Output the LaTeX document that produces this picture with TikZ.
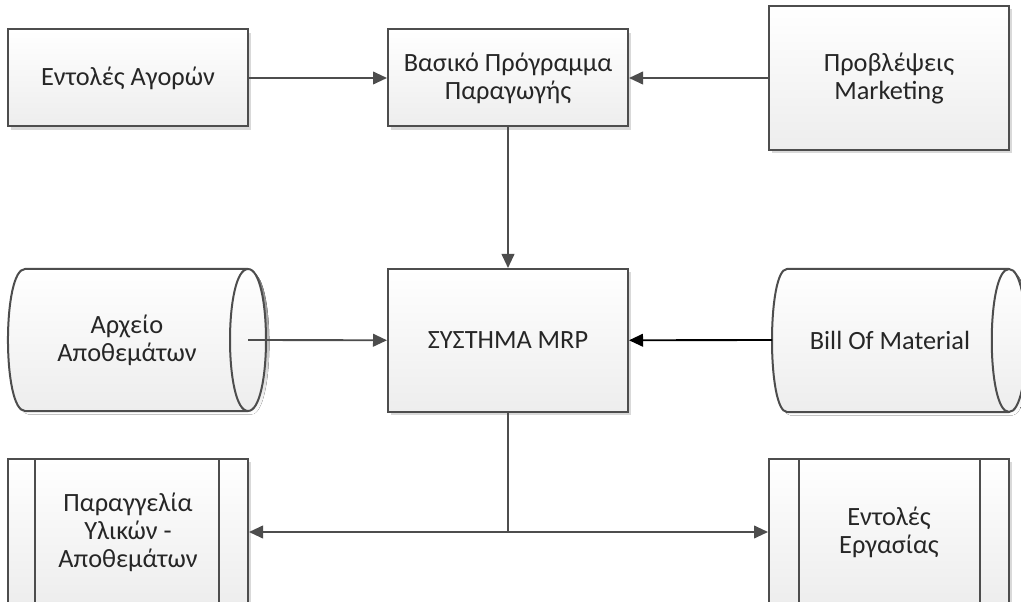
\documentclass[tikz,border=0pt]{standalone}
\usepackage{fontspec}
\setmainfont{Carlito}
\usetikzlibrary{arrows.meta,shadows}
\definecolor{edge}{HTML}{4D4D4D}
\definecolor{ink}{HTML}{262626}
\definecolor{fillbot}{HTML}{EDEDED}
\definecolor{shade}{HTML}{D9D9D9}

% outlines of the two data-store cylinders
\newcommand\cylleft{(25,269) -- (248,269) .. controls (272,269) and (272,411) .. (248,411) -- (25,411) .. controls (2.3,411) and (2.3,269) .. (25,269) -- cycle}
\newcommand\cylright{(787,269) -- (1009,269) .. controls (1032,269) and (1032,412) .. (1009,412) -- (787,412) .. controls (767,412) and (767,269) .. (787,269) -- cycle}

\begin{document}
\begin{tikzpicture}[x=0.75pt,y=-0.75pt,
  txt/.style={align=center, text=ink, inner sep=0pt,
    font=\fontsize{19.75pt}{21pt}\selectfont},
  box/.style={txt, draw=edge, line width=1.5pt, top color=white,
    bottom color=fillbot, minimum width=180pt,
    drop shadow={shadow xshift=2.5pt, shadow yshift=-2.5pt, fill=shade, opacity=1}},
  shapeline/.style={draw=edge, line width=1.5pt},
  conn/.style={draw=edge, line width=1.4pt, -{Triangle[length=10.5pt,width=9.5pt]}},
]
\useasboundingbox (0,0) rectangle (1021,602);
\fill[white] (0,0) rectangle (1021,602);
\clip (0,0) rectangle (1021,602);

% top row
\node[box, minimum height=72.75pt] (ea) at (128,78) {Εντολές Αγορών};
\node[box, minimum height=72.75pt] (bp) at (508,78) {Βασικό Πρόγραμμα\\Παραγωγής};
\node[box, minimum height=108pt] (pm) at (889,78) {Προβλέψεις\\Marketing};

% central process
\node[box, minimum height=107.25pt] (mrp) at (508,340.5) {ΣΥΣΤΗΜΑ MRP};

% data stores
\fill[shade, xshift=2.5pt, yshift=-2.5pt] \cylleft;
\path[shapeline, top color=white, bottom color=fillbot] \cylleft;
\draw[shapeline] (248,269) .. controls (224,269) and (224,411) .. (248,411);
\node[txt] (ap) at (127,340) {Αρχείο\\Αποθεμάτων};
\coordinate (apout) at (248,340);

\fill[shade, xshift=2.5pt, yshift=-2.5pt] \cylright;
\path[shapeline, top color=white, bottom color=fillbot] \cylright;
\draw[shapeline] (1009,269) .. controls (986,269) and (986,412) .. (1009,412);
\node[txt] (bom) at (890,340) {Bill Of Material};
\coordinate (bomin) at (772,340);

% predefined processes (outputs)
\node[box, minimum height=109.5pt] (po) at (128,532) {Παραγγελία\\Υλικών -\\Αποθεμάτων};
\draw[shapeline] ([xshift=21pt]po.north west) -- ([xshift=21pt]po.south west);
\draw[shapeline] ([xshift=-22.5pt]po.north east) -- ([xshift=-22.5pt]po.south east);
\node[box, minimum height=109.5pt] (eo) at (889,532) {Εντολές\\Εργασίας};
\draw[shapeline] ([xshift=23pt]eo.north west) -- ([xshift=23pt]eo.south west);
\draw[shapeline] ([xshift=-22.5pt]eo.north east) -- ([xshift=-22.5pt]eo.south east);

% connectors
\draw[conn] (ea) -- (bp);
\draw[conn] (pm) -- (bp);
\draw[conn] (bp) -- (mrp);
\draw[conn] (apout) -- (mrp);
\draw[conn, draw=black] (bomin) -- (mrp);
\draw[conn] (mrp.south) |- (po.east);
\draw[conn] (mrp.south) |- (eo.west);
\end{tikzpicture}
\end{document}
